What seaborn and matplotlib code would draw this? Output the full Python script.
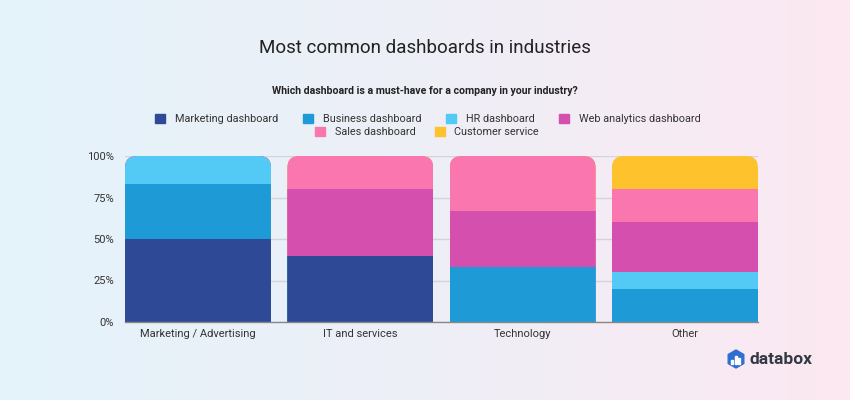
import numpy as np
import pandas as pd
import matplotlib.pyplot as plt
import seaborn as sns
from matplotlib.patches import FancyBboxPatch, RegularPolygon, Rectangle
from matplotlib.colors import LinearSegmentedColormap

# data (shares in %)
categories = ["Marketing / Advertising", "IT and services", "Technology", "Other"]
series = ["Marketing dashboard", "Business dashboard", "HR dashboard",
          "Web analytics dashboard", "Sales dashboard", "Customer service"]
marketing = [50.0, 40.0, 0.0, 0.0]
business = [33.3, 0.0, 33.3, 20.0]
hr = [16.7, 0.0, 0.0, 10.0]
web = [0.0, 40.0, 33.3, 30.0]
sales = [0.0, 20.0, 33.4, 20.0]
customer = [0.0, 0.0, 0.0, 20.0]
colors = ["#2E4A97", "#1E9AD6", "#52CAF5", "#D44FAE", "#F977AE", "#FEC22D"]

values = [marketing, business, hr, web, sales, customer]
df = pd.DataFrame({"category": categories})
for name, vals in zip(series, values):
    df[name] = vals
cum = df[series].cumsum(axis=1)
cum["category"] = categories

sns.set_theme(style="white")
plt.rcParams["font.family"] = ["Roboto", "DejaVu Sans"]

fig = plt.figure(figsize=(8.5, 4), dpi=100)

# background gradient
bg = fig.add_axes([0, 0, 1, 1], zorder=-10)
grad = LinearSegmentedColormap.from_list("bg", ["#E4F3FA", "#EEEFF7", "#FCE8F1"])
bg.imshow(np.linspace(0, 1, 256).reshape(1, -1), aspect="auto", cmap=grad,
          extent=[0, 1, 0, 1])
bg.axis("off")

ax = fig.add_axes([125 / 850, 78 / 400, 633 / 850, 166 / 400])
ax.set_facecolor("none")

# overlay cumulative bars from top series down
for name, col in reversed(list(zip(series, colors))):
    sns.barplot(data=cum, x="category", y=name, order=categories, color=col,
                width=0.9, linewidth=0, saturation=1, ax=ax)

ax.set_xlim(-0.45, 3.45)
ax.set_ylim(0, 100)
ax.set_yticks([0, 25, 50, 75, 100])
ax.set_yticklabels(["0%", "25%", "50%", "75%", "100%"])
ax.set_xlabel("")
ax.set_ylabel("")
ax.tick_params(axis="both", length=0, labelsize=8, colors="#333333")
ax.tick_params(axis="y", pad=8)
ax.tick_params(axis="x", pad=5)
for s in ["top", "right", "left"]:
    ax.spines[s].set_visible(False)
ax.spines["bottom"].set_color("#888888")
ax.spines["bottom"].set_linewidth(1)
ax.set_axisbelow(True)
ax.yaxis.grid(True, color="#D3D3DA", linewidth=1)

# rounded top corners via clip paths
bb = ax.get_window_extent()
asp = (100 / bb.height) / (3.9 / bb.width)
r_px = 12
r = r_px * 3.9 / bb.width
for i in range(len(categories)):
    clip = FancyBboxPatch((i - 0.45, -60), 0.9, 160,
                          boxstyle=f"round,pad=0,rounding_size={r}",
                          mutation_aspect=asp, transform=ax.transData)
    for p in ax.patches:
        cx = p.get_x() + p.get_width() / 2
        if abs(cx - i) < 0.3:
            p.set_clip_path(clip)

# titles
fig.text(0.5, 1 - 48 / 400, "Most common dashboards in industries", ha="center",
         va="center", fontsize=13.5, color="#222222")
fig.text(0.5, 1 - 91 / 400,
         "Which dashboard is a must-have for a company in your industry?",
         ha="center", va="center", fontsize=7.6, fontweight="bold", color="#222222")

# legend in two rows
handles = [Rectangle((0, 0), 1, 1, color=c) for c in colors]
kw = dict(frameon=False, fontsize=7.8, handlelength=0.9, handleheight=0.9,
          handletextpad=0.9, labelcolor="#333333")
fig.legend(handles[:4], series[:4], loc="center", ncol=4, columnspacing=2.3,
           bbox_to_anchor=(428 / 850, 1 - 119 / 400), **kw)
fig.legend(handles[4:], series[4:], loc="center", ncol=2, columnspacing=1.8,
           bbox_to_anchor=(427 / 850, 1 - 132 / 400), **kw)

# databox logo
logo_ax = fig.add_axes([0, 0, 1, 1], zorder=5)
logo_ax.set_xlim(0, 850)
logo_ax.set_ylim(400, 0)
logo_ax.axis("off")
logo_ax.add_patch(RegularPolygon((736, 359), numVertices=6, radius=9,
                                 orientation=0, color="#2F6FD0"))
for bx, bh in [(732.5, 4), (736, 8), (739.5, 6)]:
    logo_ax.add_patch(Rectangle((bx - 1, 364 - bh), 2, bh, color="white"))
logo_ax.text(750, 359, "databox", ha="left", va="center", fontsize=12.5,
             fontweight="bold", color="#333a44")

fig.savefig("out.png", dpi=100)
